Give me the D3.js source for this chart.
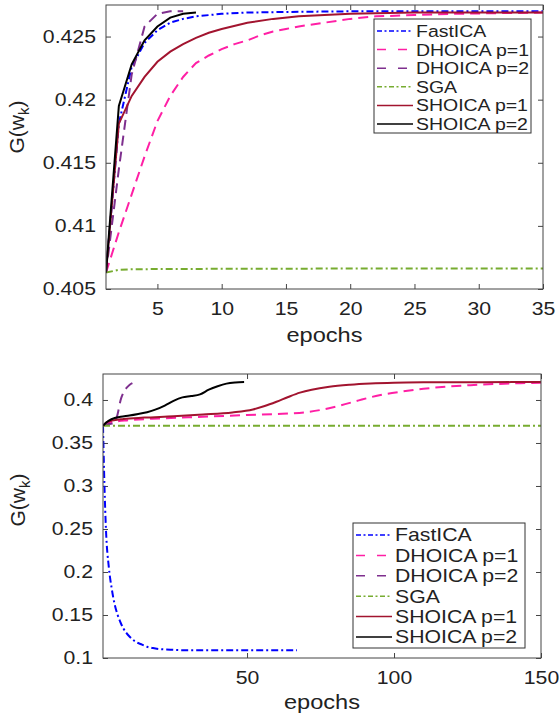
<!DOCTYPE html>
<html>
<head>
<meta charset="utf-8">
<script src="https://cdn.jsdelivr.net/npm/d3@7"></script>
<style>
  body { margin: 0; background: #fff; }
  svg { display: block; }
</style>
</head>
<body>
<svg id="chart" width="559" height="713"></svg>
<script>
// LEGEND / SERIES NAMES
var names = ["FastICA", "DHOICA p=1", "DHOICA p=2", "SGA", "SHOICA p=1", "SHOICA p=2"];

// TOP PANEL DATA  [epoch, G(w_k)]
var top_fastica = [[1,0.4063],[2,0.4181],[3,0.4226],[4,0.4245],[5,0.4255],[6,0.4261],[7,0.4264],[8,0.4266],[9,0.4267],[10,0.4268],[12,0.4269],[15,0.42695],[20,0.4270],[25,0.4270],[30,0.4270],[35,0.4270]];
var top_dhoica1 = [[1,0.4063],[2,0.4095],[3,0.4125],[4,0.4155],[5,0.4183],[6,0.4203],[7,0.4218],[8,0.4229],[9,0.4235],[10,0.4240],[11,0.4244],[12,0.4247],[13,0.4251],[14,0.4254],[15,0.4256],[16,0.4258],[18,0.4261],[20,0.4264],[22,0.4266],[25,0.4267],[28,0.4268],[31,0.42685],[35,0.4269]];
var top_dhoica2 = [[1,0.4063],[2,0.4145],[3,0.4220],[4,0.4258],[5,0.4268],[6,0.4270],[7,0.4270]];
var top_sga     = [[1,0.4063],[2,0.40652],[3,0.40656],[5,0.40658],[10,0.4066],[20,0.40662],[35,0.40663]];
var top_shoica1 = [[1,0.4063],[2,0.4181],[3,0.4203],[4,0.4218],[5,0.4230],[6,0.4238],[7,0.4244],[8,0.4249],[9,0.4253],[10,0.4256],[12,0.4261],[14,0.4264],[16,0.4266],[18,0.4267],[20,0.4268],[25,0.4269],[30,0.4269],[35,0.4269]];
var top_shoica2 = [[1,0.4063],[2,0.4195],[3,0.4228],[4,0.4247],[5,0.4258],[6,0.4265],[7,0.4268],[8,0.4269]];

// BOTTOM PANEL DATA
var bot_fastica = [[1,0.37],[1.5,0.3],[2,0.25],[3,0.205],[4,0.18],[5,0.162],[6,0.15],[7,0.141],[8,0.134],[9,0.129],[10,0.125],[12,0.119],[14,0.116],[16,0.113],[18,0.1115],[20,0.1105],[25,0.1095],[30,0.109],[40,0.109],[67,0.109]];
var bot_dhoica1 = [[1,0.37],[3,0.3735],[10,0.3765],[20,0.3785],[35,0.3805],[50,0.3825],[62,0.3840],[70,0.3858],[76,0.3890],[82,0.3938],[88,0.3995],[95,0.4055],[102,0.4095],[110,0.4130],[118,0.4155],[126,0.4172],[135,0.4186],[143,0.4195],[150,0.4200]];
var bot_dhoica2 = [[1,0.37],[2,0.3715],[3,0.372],[4,0.3725],[5,0.374],[6,0.384],[7,0.400],[8,0.409],[9,0.414],[10,0.4175],[11,0.4195]];
var bot_sga     = [[1,0.37],[150,0.37]];
var bot_shoica1 = [[1,0.37],[2,0.3735],[4,0.3760],[8,0.3780],[15,0.3795],[25,0.3810],[35,0.3830],[45,0.3855],[52,0.3890],[56,0.3930],[60,0.3980],[64,0.4035],[68,0.4085],[72,0.4120],[78,0.4155],[85,0.4178],[92,0.4192],[100,0.4201],[110,0.4205],[130,0.4207],[150,0.4208]];
var bot_shoica2 = [[1,0.37],[2,0.3735],[3,0.3760],[5,0.3790],[7,0.3805],[10,0.3820],[13,0.3838],[16,0.3858],[19,0.3890],[22,0.3935],[25,0.3990],[28,0.4030],[31,0.4045],[34,0.4065],[37,0.4120],[40,0.4160],[43,0.4190],[46,0.4203],[49,0.4208]];

// TICKS
var top_xticks = [5, 10, 15, 20, 25, 30, 35];
var top_yticks = [0.405, 0.41, 0.415, 0.42, 0.425];
var bot_xticks = [50, 100, 150];
var bot_yticks = [0.1, 0.15, 0.2, 0.25, 0.3, 0.35, 0.4];

// STYLES
var colors = ["#0000ff", "#ff1fa5", "#7e2f8e", "#77ac30", "#a2142f", "#000000"];
var dashes = ["7,3,2,3", "10,6", "10,6", "7,3,2,3", null, null];
var dashes_leg = ["5,2.5,2,2.5", "9,12", "9,12", "5,2.5,2,2.5", null, null];

var FONT = "'Liberation Sans', Arial, Helvetica, sans-serif";
var S = 1.18;   // horizontal stretch of the text

var svg = d3.select("#chart");

// text helper: stretched horizontally
function label(g, x, y, txt, size, anchor) {
    return g.append("text")
        .attr("transform", "translate(" + x + "," + y + ") scale(" + S + ",1)")
        .attr("text-anchor", anchor || "start")
        .attr("font-family", FONT)
        .attr("font-size", size)
        .attr("fill", "#222")
        .text(txt);
}

function draw_panel(p) {
    var g = svg.append("g");
    var x = d3.scaleLinear().domain(p.xdom).range([p.left, p.right]);
    var y = d3.scaleLinear().domain(p.ydom).range([p.bottom, p.top]);

    var clipId = "clip" + p.id;
    svg.append("clipPath").attr("id", clipId)
        .append("rect")
        .attr("x", p.left).attr("y", p.top)
        .attr("width", p.right - p.left).attr("height", p.bottom - p.top);

    // AXES (ticks pointing inward on all sides)
    var ax = [
        d3.axisBottom(x).tickValues(p.xticks).tickSize(-5).tickPadding(13),
        d3.axisTop(x).tickValues(p.xticks).tickSize(-5).tickFormat(""),
        d3.axisLeft(y).tickValues(p.yticks).tickSize(-5).tickPadding(8.5).tickFormat(function (d) { return +d.toFixed(3); }),
        d3.axisRight(y).tickValues(p.yticks).tickSize(-5).tickFormat("")
    ];
    var pos = ["translate(0," + p.bottom + ")", "translate(0," + p.top + ")",
               "translate(" + p.left + ",0)", "translate(" + p.right + ",0)"];
    for (var i = 0; i < 4; i++) {
        var a = g.append("g").attr("transform", pos[i]).call(ax[i]);
        a.select(".domain").remove();
        a.selectAll("line").attr("stroke", "#444");
        a.selectAll("text")
            .attr("font-family", FONT)
            .attr("font-size", 18)
            .attr("fill", "#222")
            .attr("transform", "scale(" + S + ",1)");
    }

    // LINES
    var line = d3.line()
        .x(function (d) { return x(d[0]); })
        .y(function (d) { return y(d[1]); })
        .curve(p.curve);

    var lg = g.append("g").attr("clip-path", "url(#" + clipId + ")");
    p.series.forEach(function (s, k) {
        lg.append("path")
            .datum(s)
            .attr("d", line)
            .attr("fill", "none")
            .attr("stroke", colors[k])
            .attr("stroke-width", 2)
            .attr("stroke-dasharray", dashes[k]);
    });

    // BOX
    g.append("rect")
        .attr("x", p.left).attr("y", p.top)
        .attr("width", p.right - p.left).attr("height", p.bottom - p.top)
        .attr("fill", "none").attr("stroke", "#444").attr("stroke-width", 1);

    // AXIS LABELS
    label(g, (p.left + p.right) / 2, p.xlab_y, "epochs", 20, "middle");

    var yl = g.append("text")
        .attr("transform", "translate(" + p.ylab_x + "," + p.ylab_y + ") rotate(-90)")
        .attr("text-anchor", "middle")
        .attr("font-family", FONT)
        .attr("font-size", 21)
        .attr("fill", "#222");
    yl.append("tspan").text("G(w");
    yl.append("tspan").attr("font-size", 15).attr("dy", 5).text("k");
    yl.append("tspan").attr("dy", -5).text(")");

    // LEGEND
    var L = p.legend;
    g.append("rect")
        .attr("x", L.x).attr("y", L.y).attr("width", L.w).attr("height", L.h)
        .attr("fill", "#fff").attr("stroke", "#333").attr("stroke-width", 1);
    names.forEach(function (n, k) {
        var ry = L.y + L.first + k * L.step;
        g.append("line")
            .attr("x1", L.x + 3).attr("x2", L.x + 39)
            .attr("y1", ry).attr("y2", ry)
            .attr("stroke", colors[k])
            .attr("stroke-width", 1.5)
            .attr("stroke-dasharray", dashes_leg[k]);
        label(g, L.x + 42, ry + L.size * 0.36, n, L.size, "start");
    });
}

draw_panel({
    id: "top",
    left: 106, right: 543, top: 5, bottom: 289,
    xdom: [1, 35], ydom: [0.405, 0.4275],
    xticks: top_xticks, yticks: top_yticks,
    series: [top_fastica, top_dhoica1, top_dhoica2, top_sga, top_shoica1, top_shoica2],
    curve: d3.curveLinear,
    xlab_y: 342, ylab_x: 24, ylab_y: 127,
    legend: { x: 374, y: 19, w: 157, h: 114, first: 12, step: 18.6, size: 16.5 }
});

draw_panel({
    id: "bot",
    left: 103, right: 541, top: 374, bottom: 658,
    xdom: [1, 150], ydom: [0.1, 0.4302],
    xticks: bot_xticks, yticks: bot_yticks,
    series: [bot_fastica, bot_dhoica1, bot_dhoica2, bot_sga, bot_shoica1, bot_shoica2],
    curve: d3.curveMonotoneX,
    xlab_y: 709, ylab_x: 25, ylab_y: 500,
    legend: { x: 353, y: 523, w: 172, h: 125, first: 12, step: 20.4, size: 18 }
});
</script>
</body>
</html>
